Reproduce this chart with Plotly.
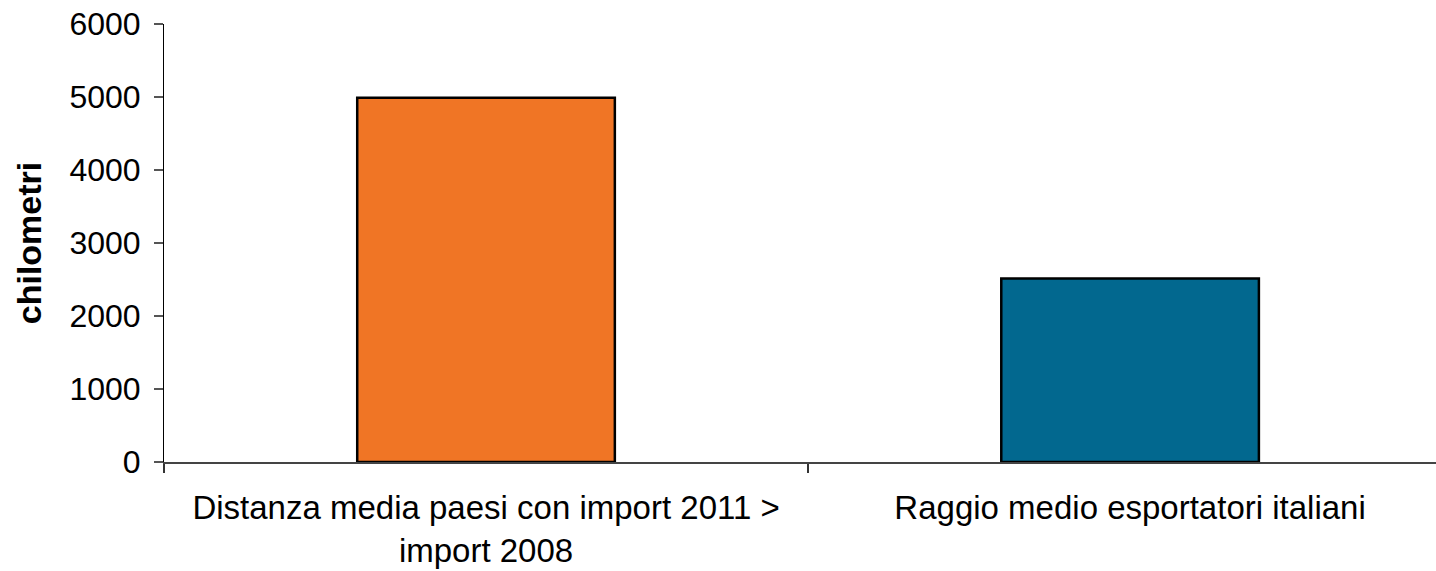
import plotly.graph_objects as go

categories = ["Distanza media paesi con import 2011 ><br>import 2008", "Raggio medio esportatori italiani"]
values = [4990, 2515]
colors = ["#F07525", "#02688F"]
y_ticks = [0, 1000, 2000, 3000, 4000, 5000, 6000]

fig = go.Figure()
fig.add_trace(go.Bar(
    x=categories, y=values,
    marker=dict(color=colors, line=dict(color="#000000", width=2.5)),
    width=0.4,
))

fig.update_layout(
    width=1436, height=571,
    margin=dict(l=164, r=0, t=24, b=109),
    paper_bgcolor="white", plot_bgcolor="white",
    showlegend=False,
    font=dict(family="Liberation Sans, Arial, sans-serif", color="#000000"),
)
fig.update_yaxes(
    range=[0, 6000], tickvals=y_ticks, showgrid=False, zeroline=False,
    showline=True, linecolor="#000000", linewidth=1,
    ticks="outside", ticklen=9, tickcolor="#555555", tickwidth=1.5,
    tickfont=dict(size=32), ticklabelstandoff=7,
    title=dict(text="<b>chilometri</b>", font=dict(size=34), standoff=17),
)
fig.update_xaxes(
    range=[-0.5, 1.475], showgrid=False, zeroline=False,
    showline=True, linecolor="#444444", linewidth=1.5,
    ticks="outside", tickson="boundaries", ticklen=9, tickcolor="#333333", tickwidth=1.5,
    tickfont=dict(size=33), ticklabelstandoff=16,
)

fig.write_html("out.html")
